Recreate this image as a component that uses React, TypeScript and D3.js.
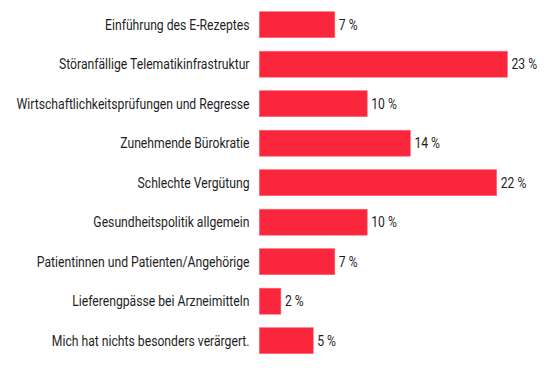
import React from "react";
import * as d3 from "d3";

const categories = [
  "Einführung des E-Rezeptes",
  "Störanfällige Telematikinfrastruktur",
  "Wirtschaftlichkeitsprüfungen und Regresse",
  "Zunehmende Bürokratie",
  "Schlechte Vergütung",
  "Gesundheitspolitik allgemein",
  "Patientinnen und Patienten/Angehörige",
  "Lieferengpässe bei Arzneimitteln",
  "Mich hat nichts besonders verärgert.",
];
const values = [7, 23, 10, 14, 22, 10, 7, 2, 5];

const W = 550;
const H = 368;
const FONT = "Roboto, 'Liberation Sans', sans-serif";
const SX = 0.87;

export default function App() {
  const x = d3.scaleLinear().domain([0, 23]).range([259.3, 507.5]);
  const step = 39.5;
  const bh = 26;
  const y = d3
    .scaleBand<string>()
    .domain(categories)
    .range([11.7 - (step - bh) / 2, 11.7 - (step - bh) / 2 + step * categories.length])
    .paddingInner((step - bh) / step)
    .paddingOuter((step - bh) / step / 2);
  return (
    <svg
      width={W}
      height={H}
      style={{ position: "absolute", left: 0, top: 0, background: "#fff" }}
      fontFamily={FONT}
    >
      {categories.map((c, i) => {
        const v = values[i];
        const yt = y(c) as number;
        const h = y.bandwidth();
        const lx = x(0) - 9.8;
        const vx = x(v) + 4;
        const cy = yt + h / 2;
        return (
          <g key={c}>
            <rect
              x={x(0)}
              y={yt}
              width={x(v) - x(0)}
              height={h}
              fill="#fa263b"
              stroke="#fb6b78"
              strokeWidth={0.6}
            />
            <text
              transform={`translate(${lx},${cy}) scale(${SX},1)`}
              dy="0.36em"
              textAnchor="end"
              fontSize={14}
              fill="#1e1e1e"
            >
              {c}
            </text>
            <text
              transform={`translate(${vx},${cy}) scale(${SX},1)`}
              dy="0.36em"
              textAnchor="start"
              fontSize={14}
              fill="#1e1e1e"
            >
              {v + " %"}
            </text>
          </g>
        );
      })}
    </svg>
  );
}
